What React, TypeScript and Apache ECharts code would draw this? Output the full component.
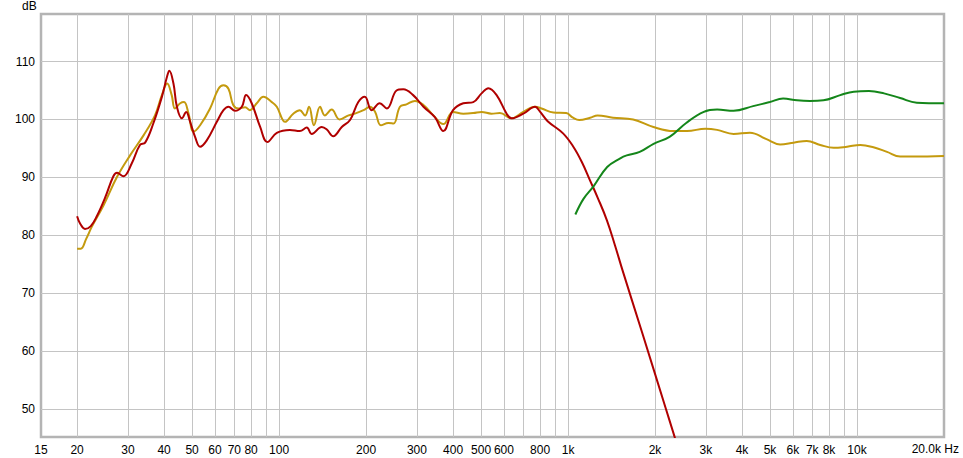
import React, { useEffect, useRef } from "react";
import * as echarts from "echarts";

// ---- data (frequency in Hz, level in dB) ----
const redFreq = [20, 20.5, 21.3, 22.3, 23.4, 25.0, 26.7, 27.5, 28.9, 30.9, 33.0, 34.4, 36.7, 39.3, 41.0, 41.7, 43.1, 44.3, 46.1, 47.7, 49.2, 51.2, 53.3, 56.2, 60.9, 64.2, 66.8, 70.4, 74.3, 76.9, 80.4, 86.0, 91.1, 98.2, 109, 118, 124.7, 129.8, 140.5, 146, 154, 164.8, 176, 188, 198, 209, 223, 236, 255, 269, 291, 316, 346, 370, 400, 434, 470, 502, 530, 566, 613, 637, 700, 769, 801, 850, 961, 1043, 1115, 1191, 1269, 1363, 1453, 1543, 1800, 2183, 2345];
const redDb = [83.3, 82.0, 81.1, 81.6, 83.3, 86.5, 90.2, 90.8, 90.2, 92.4, 95.6, 96.0, 99.3, 103.9, 107.5, 108.4, 106.2, 102.2, 100.2, 101.3, 99.6, 97.0, 95.3, 96.4, 99.6, 101.6, 102.2, 101.5, 102.2, 104.2, 102.8, 98.7, 96.1, 97.7, 98.2, 98.0, 98.6, 97.5, 98.7, 98.3, 97.1, 98.7, 99.9, 103.0, 103.9, 101.6, 102.8, 101.9, 105.0, 105.2, 104.2, 102.2, 100.4, 98.0, 101.6, 102.8, 103.0, 104.5, 105.4, 104.2, 101.0, 100.2, 101.0, 102.2, 101.3, 99.7, 97.6, 95.3, 92.7, 89.5, 86.4, 82.6, 78.3, 74.0, 63.4, 50.0, 45.0];

const goldFreq = [20, 20.6, 21.5, 22.5, 24.7, 27.5, 30.5, 34.0, 37.2, 39.3, 41.0, 42.5, 43.6, 45.5, 46.9, 48.6, 50.6, 53.3, 57.7, 61.7, 64.2, 66.8, 69.4, 72.3, 76.3, 79.3, 83.7, 88.2, 94.4, 98.2, 105, 112, 118, 123, 127, 132, 138.6, 144, 152, 162, 174, 183, 196, 206, 215, 225, 239, 249, 262, 276, 295, 316, 342, 370, 400, 434, 470, 502, 543, 581, 637, 700, 769, 810, 890, 985, 1040, 1093, 1192, 1265, 1431, 1680, 1975, 2316, 2580, 2987, 3280, 3740, 4260, 4860, 5420, 6030, 6700, 7460, 8300, 9240, 10270, 11400, 12700, 14100, 15700, 20000];
const goldDb = [77.7, 77.7, 79.4, 81.5, 85.2, 90.1, 93.8, 97.3, 100.7, 104.2, 106.2, 104.2, 101.9, 102.8, 103.0, 101.0, 97.9, 99.0, 101.9, 105.3, 105.9, 105.3, 102.5, 101.9, 102.1, 101.6, 102.8, 103.9, 103.0, 102.2, 99.6, 101.0, 101.6, 100.7, 102.2, 99.0, 102.2, 100.7, 101.7, 100.0, 100.7, 101.0, 101.6, 102.2, 101.3, 99.0, 99.4, 99.3, 102.2, 102.6, 103.2, 102.5, 100.7, 99.2, 101.3, 101.0, 101.1, 101.3, 101.0, 101.1, 100.2, 101.3, 102.2, 101.9, 101.2, 101.1, 100.3, 99.9, 100.3, 100.7, 100.3, 100.0, 98.7, 98.0, 98.0, 98.4, 98.2, 97.5, 97.7, 96.6, 95.7, 96.0, 96.3, 95.6, 95.1, 95.3, 95.6, 95.2, 94.4, 93.6, 93.6, 93.7];

const greenFreq = [1060, 1131, 1227, 1366, 1516, 1596, 1770, 1977, 2245, 2564, 2950, 3280, 3740, 4370, 4990, 5550, 6200, 6870, 7650, 8750, 9750, 11000, 12400, 14100, 16100, 20000];
const greenDb = [83.6, 86.3, 88.5, 91.8, 93.3, 93.8, 94.4, 95.8, 97.0, 99.4, 101.3, 101.7, 101.5, 102.3, 103.0, 103.6, 103.3, 103.2, 103.3, 104.2, 104.8, 104.9, 104.5, 103.7, 102.9, 102.8];

// ---- axes ----
const freqMin = 15;
const freqMax = 20000;
const dbMin = 45.2;
const dbMax = 118.2;
const gridFreqs = [20, 30, 40, 50, 60, 70, 80, 90, 100, 200, 300, 400, 500, 600, 700, 800, 900, 1000, 2000, 3000, 4000, 5000, 6000, 7000, 8000, 9000, 10000];
const labelFreqs = [15, 20, 30, 40, 50, 60, 70, 80, 100, 200, 300, 400, 500, 600, 800, 1000, 2000, 3000, 4000, 5000, 6000, 7000, 8000, 10000];
const labelTexts = ["15", "20", "30", "40", "50", "60", "70", "80", "100", "200", "300", "400", "500", "600", "800", "1k", "2k", "3k", "4k", "5k", "6k", "7k", "8k", "10k"];
const lastLabel = "20.0k Hz";
const dbTicks = [50, 60, 70, 80, 90, 100, 110];
const yUnit = "dB";

const lg = (f: number) => Math.log10(f);
const pairs = (fs: number[], ds: number[]) => fs.map((f, i) => [lg(f), ds[i]]);

export default function App() {
  const ref = useRef<HTMLDivElement>(null);
  useEffect(() => {
    if (!ref.current) return;
    const chart = echarts.init(ref.current, null, { renderer: "svg" });
    const font = "Liberation Sans, Arial, sans-serif";
    const labelLogs = labelFreqs.map(lg);
    chart.setOption({
      animation: false,
      backgroundColor: "#ffffff",
      grid: {
        left: 41,
        right: 19,
        top: 14,
        bottom: 21,
        show: true,
        borderColor: "#b4b4b4",
        borderWidth: 2.5,
        backgroundColor: "transparent",
      },
      xAxis: {
        type: "value",
        min: lg(freqMin),
        max: lg(freqMax),
        axisLine: { show: false },
        axisTick: { show: false, customValues: gridFreqs.map(lg) },
        splitLine: { show: true, lineStyle: { color: "#c4c4c4", width: 1 } },
        axisLabel: {
          customValues: labelLogs,
          margin: 7,
          color: "#000",
          fontSize: 12,
          fontFamily: font,
          formatter: (v: number) => {
            let best = 0;
            let bd = Infinity;
            labelLogs.forEach((l, i) => {
              const d = Math.abs(l - v);
              if (d < bd) { bd = d; best = i; }
            });
            return labelTexts[best];
          },
        },
      },
      yAxis: {
        type: "value",
        min: dbMin,
        max: dbMax,
        axisLine: { show: false },
        axisTick: { show: false, customValues: dbTicks },
        splitLine: { show: true, lineStyle: { color: "#c4c4c4", width: 1 } },
        axisLabel: {
          customValues: dbTicks,
          margin: 6,
          color: "#000",
          fontSize: 12,
          fontFamily: font,
        },
      },
      graphic: [
        {
          type: "text",
          left: 22,
          top: 0,
          style: { text: yUnit, fill: "#000", font: `12px ${font}` },
        },
        {
          type: "text",
          right: 4,
          top: 443,
          style: { text: lastLabel, fill: "#000", font: `12px ${font}` },
        },
      ],
      series: [
        {
          type: "line",
          data: pairs(goldFreq, goldDb),
          showSymbol: false,
          smooth: 0.4,
          lineStyle: { color: "#c49a0e", width: 2 },
          clip: true,
        },
        {
          type: "line",
          data: pairs(redFreq, redDb),
          showSymbol: false,
          smooth: 0.4,
          lineStyle: { color: "#b00000", width: 2 },
          clip: true,
        },
        {
          type: "line",
          data: pairs(greenFreq, greenDb),
          showSymbol: false,
          smooth: 0.4,
          lineStyle: { color: "#14861a", width: 2 },
          clip: true,
        },
      ],
    });
    return () => chart.dispose();
  }, []);
  return <div ref={ref} style={{ width: 963, height: 458, position: "absolute", left: 0, top: 0 }} />;
}
